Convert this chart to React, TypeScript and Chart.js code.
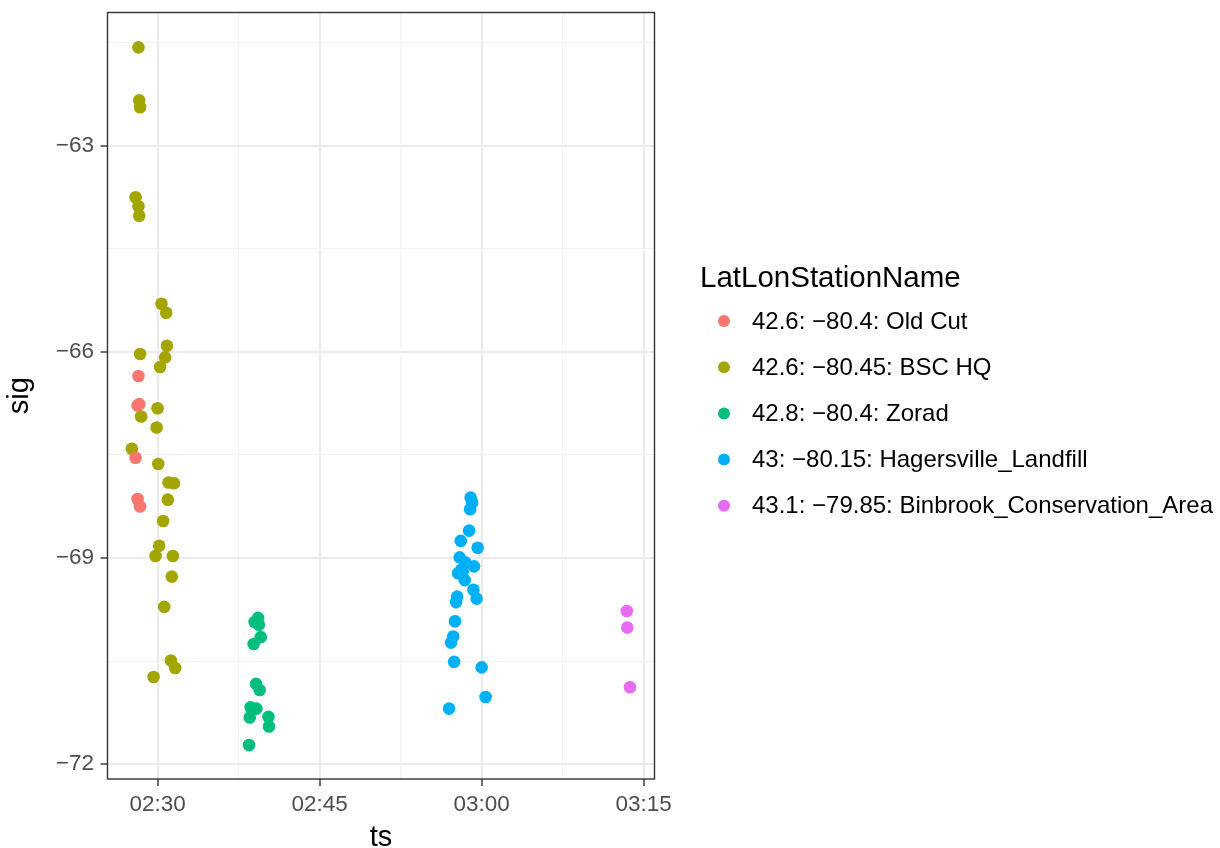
import React, { useEffect, useRef } from "react";
import { Chart, registerables } from "chart.js";

Chart.register(...registerables);
Chart.defaults.font.family = "'Liberation Sans', Arial, sans-serif";

const seriesNames = [
  "42.6: \u221280.4: Old Cut",
  "42.6: \u221280.45: BSC HQ",
  "42.8: \u221280.4: Zorad",
  "43: \u221280.15: Hagersville_Landfill",
  "43.1: \u221279.85: Binbrook_Conservation_Area",
];
const seriesColors = ["#F8766D", "#A3A500", "#00BF7D", "#00B0F6", "#E76BF3"];

const oldCutTs = ["02:28:14", "02:28:09", "02:28:18", "02:27:58", "02:28:09", "02:28:23"];
const oldCutSig = [-66.35, -66.78, -66.76, -67.54, -68.14, -68.25];

const bscTs = [
  "02:28:14", "02:28:18", "02:28:23", "02:27:58", "02:28:14", "02:28:18", "02:30:22", "02:30:48",
  "02:30:52", "02:28:23", "02:30:42", "02:30:14", "02:30:00", "02:28:29", "02:29:55", "02:27:37",
  "02:30:04", "02:31:01", "02:31:31", "02:30:57", "02:30:31", "02:30:09", "02:29:49", "02:31:25",
  "02:31:19", "02:30:37", "02:31:14", "02:31:38", "02:29:38",
];
const bscSig = [
  -61.57, -62.34, -62.44, -63.75, -63.88, -64.02, -65.3, -65.43,
  -65.91, -66.03, -66.08, -66.22, -66.82, -66.94, -67.1, -67.41,
  -67.63, -67.9, -67.91, -68.15, -68.46, -68.82, -68.97, -68.97,
  -69.27, -69.71, -70.49, -70.6, -70.73,
];

const zoradTs = [
  "02:39:18", "02:38:59", "02:39:23", "02:39:33", "02:38:54", "02:39:07", "02:39:27",
  "02:38:37", "02:39:09", "02:38:32", "02:40:16", "02:40:19", "02:38:28",
];
const zoradSig = [-69.87, -69.93, -69.97, -70.15, -70.25, -70.83, -70.92, -71.17, -71.19, -71.32, -71.31, -71.45, -71.72];

const hagersTs = [
  "02:58:59", "02:59:07", "02:58:56", "02:58:50", "02:58:04", "02:59:38", "02:57:58", "02:58:28",
  "02:59:18", "02:58:07", "02:57:49", "02:58:15", "02:58:26", "02:59:14", "02:59:32", "02:57:44",
  "02:57:38", "02:57:32", "02:57:22", "02:57:10", "02:57:27", "03:00:00", "03:00:22", "02:56:59",
];
const hagersSig = [
  -68.12, -68.19, -68.29, -68.6, -68.75, -68.85, -68.99, -69.06,
  -69.12, -69.17, -69.22, -69.2, -69.32, -69.46, -69.59, -69.56,
  -69.64, -69.92, -70.14, -70.23, -70.51, -70.59, -71.02, -71.19,
];

const binbrookTs = ["03:13:26", "03:13:29", "03:13:44"];
const binbrookSig = [-69.77, -70.01, -70.88];

const xMajorTicks = ["02:30", "02:45", "03:00", "03:15"];
const xMinorTicks = ["02:37:30", "02:52:30", "03:07:30"];
const yMajorTicks = [-72, -69, -66, -63];
const yMinorTicks = [-70.5, -67.5, -64.5, -61.5];
const xLimits = ["02:25:22", "03:16:00"];
const yLimits = [-72.214, -61.062];

function toMin(s: string): number {
  const p = s.split(":").map(Number);
  return p[0] * 60 + p[1] + (p[2] || 0) / 60;
}
function fmtMin(v: number): string {
  const h = Math.floor(v / 60);
  const m = Math.round(v - h * 60);
  return String(h).padStart(2, "0") + ":" + String(m).padStart(2, "0");
}

const allTs = [oldCutTs, bscTs, zoradTs, hagersTs, binbrookTs];
const allSig = [oldCutSig, bscSig, zoradSig, hagersSig, binbrookSig];

const xMajorVals = xMajorTicks.map(toMin);
const xGridVals = [...xMajorVals, ...xMinorTicks.map(toMin)].sort((a, b) => a - b);
const yGridVals = [...yMajorTicks, ...yMinorTicks].sort((a, b) => a - b);

const isXMajor = (v: number) => xMajorVals.some((m) => Math.abs(m - v) < 1e-6);
const isYMajor = (v: number) => yMajorTicks.some((m) => Math.abs(m - v) < 1e-6);

const FONT = "'Liberation Sans', Arial, sans-serif";

const panelBorder = {
  id: "panelBorder",
  afterDatasetsDraw(chart: any) {
    const { ctx, chartArea } = chart;
    ctx.save();
    ctx.strokeStyle = "#333333";
    ctx.lineWidth = 1.4;
    ctx.strokeRect(chartArea.left, chartArea.top, chartArea.right - chartArea.left, chartArea.bottom - chartArea.top);
    ctx.restore();
  },
};

const sideLegend = {
  id: "sideLegend",
  afterDraw(chart: any) {
    const ctx = chart.ctx;
    ctx.save();
    ctx.fillStyle = "#000000";
    ctx.textAlign = "left";
    ctx.textBaseline = "alphabetic";
    ctx.font = `29.5px ${FONT}`;
    ctx.fillText("LatLonStationName", 700, 287);
    ctx.font = `24px ${FONT}`;
    ctx.textBaseline = "middle";
    seriesNames.forEach((name, i) => {
      const y = 321 + i * 46.2;
      ctx.fillStyle = seriesColors[i];
      ctx.beginPath();
      ctx.arc(724, y, 6, 0, Math.PI * 2);
      ctx.fill();
      ctx.fillStyle = "#000000";
      ctx.fillText(name, 752, y + 1);
    });
    ctx.restore();
  },
};

export default function App() {
  const ref = useRef<HTMLCanvasElement | null>(null);
  useEffect(() => {
    if (!ref.current) return;
    const datasets = seriesNames.map((name, i) => ({
      label: name,
      data: allTs[i].map((t, j) => ({ x: toMin(t), y: allSig[i][j] })),
      backgroundColor: seriesColors[i],
      borderColor: seriesColors[i],
      pointRadius: 6.3,
      pointBorderWidth: 0,
      showLine: false,
    }));
    const chart = new Chart(ref.current, {
      type: "scatter",
      data: { datasets },
      options: {
        animation: false,
        responsive: false,
        devicePixelRatio: 1,
        events: [],
        layout: { padding: { top: 12.5, right: 1220 - 654.5, left: 0, bottom: 0 } },
        plugins: { legend: { display: false }, tooltip: { enabled: false } },
        scales: {
          x: {
            type: "linear",
            min: toMin(xLimits[0]),
            max: toMin(xLimits[1]),
            afterBuildTicks: (s: any) => {
              s.ticks = xGridVals.map((v) => ({ value: v }));
            },
            afterFit: (s: any) => {
              s.height = 69;
              s.paddingLeft = 0;
              s.paddingRight = 0;
            },
            ticks: {
              autoSkip: false,
              maxRotation: 0,
              padding: 5,
              color: "#4D4D4D",
              font: { size: 22.5 },
              callback: (v: any) => (isXMajor(Number(v)) ? fmtMin(Number(v)) : ""),
            },
            grid: {
              color: (c: any) => (isXMajor(c.tick?.value) ? "#EBEBEB" : "#F2F2F2"),
              lineWidth: (c: any) => (isXMajor(c.tick?.value) ? 2 : 1.1),
              tickColor: (c: any) => (isXMajor(c.tick?.value) ? "#333333" : "rgba(0,0,0,0)"),
              tickLength: 7,
              tickWidth: 1.4,
            },
            border: { display: false },
            title: { display: true, text: "ts", color: "#000000", font: { size: 29, lineHeight: 0.7 }, padding: { top: 0, bottom: 0 } },
          },
          y: {
            type: "linear",
            min: yLimits[0],
            max: yLimits[1],
            afterBuildTicks: (s: any) => {
              s.ticks = yGridVals.map((v) => ({ value: v }));
            },
            afterFit: (s: any) => {
              s.width = 107.5;
              s.paddingTop = 0;
              s.paddingBottom = 0;
            },
            ticks: {
              autoSkip: false,
              padding: 6.5,
              color: "#4D4D4D",
              font: { size: 22.5 },
              callback: (v: any) => (isYMajor(Number(v)) ? String(v).replace("-", "\u2212") : ""),
            },
            grid: {
              color: (c: any) => (isYMajor(c.tick?.value) ? "#EBEBEB" : "#F2F2F2"),
              lineWidth: (c: any) => (isYMajor(c.tick?.value) ? 2 : 1.1),
              tickColor: (c: any) => (isYMajor(c.tick?.value) ? "#333333" : "rgba(0,0,0,0)"),
              tickLength: 7,
              tickWidth: 1.4,
            },
            border: { display: false },
            title: { display: true, text: "sig", color: "#000000", font: { size: 29, lineHeight: 1.4 }, padding: { top: 0, bottom: 0 } },
          },
        },
      },
      plugins: [panelBorder, sideLegend],
    } as any);
    return () => chart.destroy();
  }, []);
  return (
    <div style={{ position: "absolute", left: 0, top: 0, width: 1220, height: 848, background: "#ffffff" }}>
      <canvas ref={ref} width={1220} height={848} style={{ display: "block", width: 1220, height: 848 }} />
    </div>
  );
}
